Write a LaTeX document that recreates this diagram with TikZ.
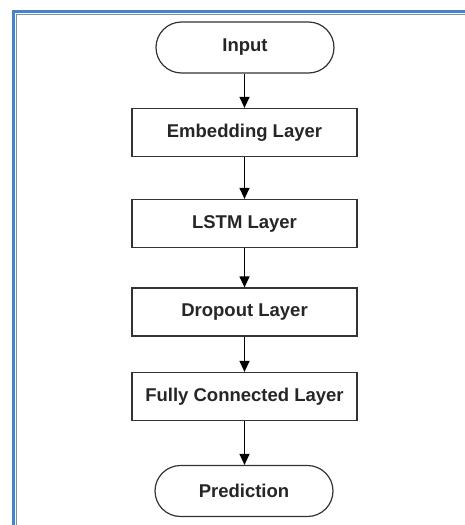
\documentclass[tikz,border=0pt]{standalone}
\usepackage{fontspec}
\setmainfont{Liberation Sans}
\usetikzlibrary{arrows.meta}
\definecolor{frameblue}{RGB}{79,129,189}
\begin{document}
\begin{tikzpicture}[x=1pt,y=-1pt,
  every node/.style={font=\fontsize{18.5}{22}\selectfont\bfseries, text=black!85},
  layerbox/.style={draw=black!80, line width=1.2pt, minimum width=225pt, minimum height=48pt, inner sep=0pt},
  terminal/.style={draw=black!80, line width=1.2pt, minimum width=178pt, minimum height=51pt, rounded corners=25.5pt, inner sep=0pt},
  flow/.style={draw=black, line width=1.2pt, -{Triangle[width=10pt,length=11pt]}}]
\useasboundingbox (0,0) rectangle (465,525);
\fill[white] (0,0) rectangle (465,525);
% frame
\draw[black!45, line width=1pt] (16,14.5) -- (465,14.5);
\draw[black!45, line width=1pt] (16,14.5) -- (16,525);
\draw[frameblue, line width=3pt] (13,11.5) -- (465,11.5);
\draw[frameblue, line width=3pt] (13,10) -- (13,525);
% nodes
\node[terminal] (input) at (245,47.5) {Input};
\node[layerbox] (emb) at (244.5,132.5) {Embedding Layer};
\node[layerbox] (lstm) at (244.5,223.5) {LSTM Layer};
\node[layerbox] (drop) at (244.5,312) {Dropout Layer};
\node[layerbox] (fc) at (244.5,396.5) {Fully Connected Layer};
\node[terminal] (pred) at (244,491) {Prediction};
% connectors
\draw[flow] (input.south -| emb.north) -- (emb.north);
\draw[flow] (emb) -- (lstm);
\draw[flow] (lstm) -- (drop);
\draw[flow] (drop) -- (fc);
\draw[flow] (fc.south) -- (pred.north -| fc.south);
\end{tikzpicture}
\end{document}
